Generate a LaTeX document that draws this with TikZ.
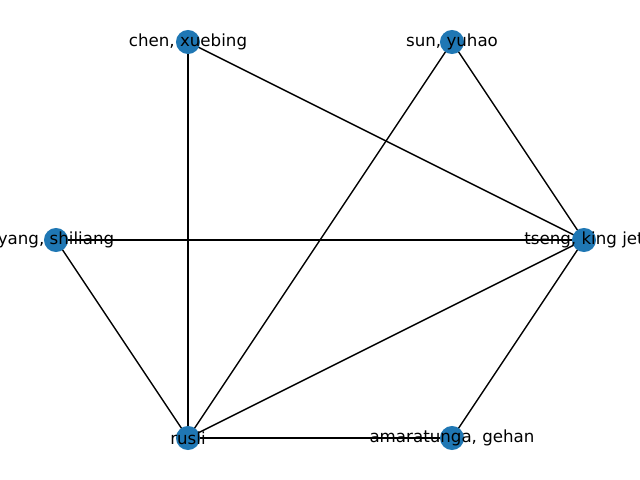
\documentclass[tikz,border=0pt]{standalone}
\usepackage{fontspec}
\setmainfont{DejaVu Sans}
\definecolor{mplblue}{HTML}{1F77B4}
\begin{document}
\begin{tikzpicture}[x=0.72pt,y=-0.72pt,
  vertex/.style={circle,fill=mplblue,draw=none,minimum size=17.3pt,inner sep=0pt},
  lbl/.style={font=\fontsize{12pt}{14pt}\selectfont,inner sep=0pt,text=black},
  edge/.style={draw=black,line width=1pt}]
\useasboundingbox (0,0) rectangle (640,480);
\clip (0,0) rectangle (640,480);
\coordinate (chen) at (188,42);
\coordinate (sun) at (452,42);
\coordinate (yang) at (56,240);
\coordinate (tseng) at (584,240);
\coordinate (rusli) at (188,438);
\coordinate (amar) at (452,438);
\draw[edge] (chen) -- (tseng);
\draw[edge] (chen) -- (rusli);
\draw[edge] (sun) -- (rusli);
\draw[edge] (sun) -- (tseng);
\draw[edge] (yang) -- (tseng);
\draw[edge] (yang) -- (rusli);
\draw[edge] (rusli) -- (tseng);
\draw[edge] (rusli) -- (amar);
\draw[edge] (amar) -- (tseng);
\node[vertex] (nchen) at (chen) {};
\node[vertex] (nsun) at (sun) {};
\node[vertex] (nyang) at (yang) {};
\node[vertex] (ntseng) at (tseng) {};
\node[vertex] (nrusli) at (rusli) {};
\node[vertex] (namar) at (amar) {};
\node[lbl] (lchen) at (chen) {chen, xuebing};
\node[lbl] (lsun) at (sun) {sun, yuhao};
\node[lbl] (lyang) at (yang) {yang, shiliang};
\node[lbl] (ltseng) at (tseng) {tseng, king jet};
\node[lbl] (lrusli) at (rusli) {rusli};
\node[lbl] (lamar) at (amar) {amaratunga, gehan};
\end{tikzpicture}
\end{document}
